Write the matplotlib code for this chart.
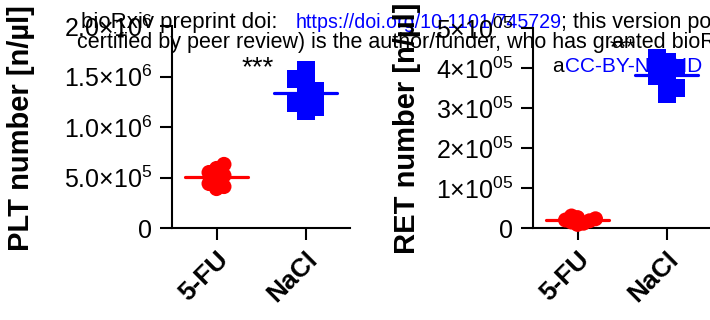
import numpy as np
import matplotlib
matplotlib.use("Agg")
import matplotlib.pyplot as plt

plt.rcParams['font.family'] = ['Liberation Sans', 'DejaVu Sans']
plt.rcParams['mathtext.fontset'] = 'custom'
plt.rcParams['mathtext.rm'] = 'Liberation Sans'
plt.rcParams['mathtext.it'] = 'Liberation Sans:italic'
plt.rcParams['mathtext.bf'] = 'Liberation Sans:bold'

# ---------------- data ----------------
groups = ["5-FU", "NaCl"]
plt_5fu = [6.3e5, 5.9e5, 5.5e5, 5.2e5, 4.8e5, 4.4e5, 4.1e5, 3.9e5]
plt_nacl = [1.56e6, 1.48e6, 1.42e6, 1.36e6, 1.30e6, 1.24e6, 1.20e6, 1.16e6]
ret_5fu = [3.0e4, 2.6e4, 2.3e4, 2.0e4, 1.8e4, 1.5e4, 1.2e4, 0.9e4]
ret_nacl = [4.25e5, 4.15e5, 4.0e5, 3.9e5, 3.8e5, 3.65e5, 3.5e5, 3.35e5]

plt_ticks = [0, 5e5, 1e6, 1.5e6, 2e6]
plt_tick_labels = ["0", "5.0×10$^{5}$", "1.0×10$^{6}$", "1.5×10$^{6}$", "2.0×10$^{6}$"]
ret_ticks = [0, 1e5, 2e5, 3e5, 4e5, 5e5]
ret_tick_labels = ["0", "1×10$^{05}$", "2×10$^{05}$", "3×10$^{05}$", "4×10$^{05}$", "5×10$^{05}$"]
plt_ylabel = "PLT number [n/µl]"
ret_ylabel = "RET number [n/µl]"
sig_label = "***"

header_1a = "bioRxiv preprint doi:"
header_1b = "https://doi.org/10.1101/745729"
header_1c = "; this version posted"
header_2 = "certified by peer review) is the author/funder, who has granted bioRxiv"
header_3a = "a"
header_3b = "CC-BY-NC-ND"

# ---------------- layout ----------------
W, H, DPI = 710, 320, 100
fig = plt.figure(figsize=(W / DPI, H / DPI), dpi=DPI)

RED = "#ff0000"
BLUE = "#0000ff"
LW = 1.5
TICK_FS = 18
LAB_FS = 21


def make_ax(left_px, top_px):
    bottom_px = 228
    ax = fig.add_axes([left_px / W, (H - bottom_px) / H, 178 / W, (bottom_px - top_px) / H])
    ax.set_facecolor("none")
    for s in ["top", "right"]:
        ax.spines[s].set_visible(False)
    for s in ["left", "bottom"]:
        ax.spines[s].set_linewidth(LW)
    ax.set_xlim(-0.5, 1.5)
    ax.tick_params(axis="both", length=8.6, width=LW, pad=5.5, labelsize=TICK_FS)
    ax.set_xticks(range(len(groups)))
    ax.set_xticklabels(groups, rotation=45, ha="right", va="top", rotation_mode="anchor",
                       fontweight="bold", fontsize=19)
    return ax


def swarm(ax, values, xpos, diam_px, thr, step):
    vals = np.asarray(values, dtype=float)
    pts = ax.transData.transform(np.column_stack([np.full(len(vals), xpos), vals]))
    ys = pts[:, 1]
    order = np.argsort(ys)
    placed = []
    offs = np.zeros(len(vals))
    sign = 1.0
    for i in order:
        y = ys[i]
        cands = [0.0]
        for k in range(1, 30):
            cands += [sign * k * diam_px * step, -sign * k * diam_px * step]
        for c in cands:
            if all((c - px) ** 2 + (y - py) ** 2 >= (thr * diam_px) ** 2 - 1e-6
                   for px, py in placed):
                break
        placed.append((c, y))
        offs[i] = c
        if c != 0:
            sign = -np.sign(c)
    scale = ax.transData.transform([(1, 0)])[0][0] - ax.transData.transform([(0, 0)])[0][0]
    return xpos + offs / scale


def draw_group(ax, values, xpos, color, marker, diam_px, thr=0.5, step=0.5):
    xs = swarm(ax, values, xpos, diam_px, thr, step)
    ax.scatter(xs, values, s=(diam_px * 0.72) ** 2, marker=marker, color=color,
               edgecolors="none", zorder=3, clip_on=False)
    m = np.mean(values)
    ax.plot([xpos - 0.35, xpos + 0.35], [m, m], color=color, lw=2.3,
            solid_capstyle="round", zorder=4, clip_on=False)


# left panel
ax1 = make_ax(172, 26)
ax1.set_ylim(0, 2e6)
ax1.set_yticks(plt_ticks)
ax1.set_yticklabels(plt_tick_labels)
draw_group(ax1, plt_5fu, 0, RED, "o", 15, 0.5, 0.5)
draw_group(ax1, plt_nacl, 1, BLUE, "s", 18, 0.5, 0.55)
ax1.text(0.46, 1.515e6, sig_label, ha="center", va="baseline", fontsize=20)

# right panel
ax2 = make_ax(533, 28)
ax2.set_ylim(0, 5e5)
ax2.set_yticks(ret_ticks)
ax2.set_yticklabels(ret_tick_labels)
draw_group(ax2, ret_5fu, 0, RED, "o", 15, 0.4, 0.4)
draw_group(ax2, ret_nacl, 1, BLUE, "s", 18, 0.5, 0.55)
ax2.text(0.51, 4.38e5, sig_label, ha="center", va="baseline", fontsize=16)

# y labels
fig.text(21 / W, (H - 128) / H, plt_ylabel, rotation=90, ha="center", va="center",
         fontsize=LAB_FS, fontweight="bold")
fig.text(407 / W, (H - 128) / H, ret_ylabel, rotation=90, ha="center", va="center",
         fontsize=LAB_FS, fontweight="bold")


# header (bioRxiv overlay, cropped by the figure edge as in the source)
def htext(x_px, base_px, s, color, fs):
    fig.text(x_px / W, (H - base_px) / H, s, color=color, fontsize=fs, ha="left",
             va="baseline", zorder=-1)


htext(81, 28, header_1a, "black", 16)
htext(296, 28, header_1b, "blue", 14.1)
htext(561, 28, header_1c, "black", 15.5)
htext(77, 48, header_2, "black", 15.5)
htext(552, 72, header_3a, "black", 15)
htext(565, 72, header_3b, "blue", 15)

fig.savefig("out.png", dpi=DPI)
